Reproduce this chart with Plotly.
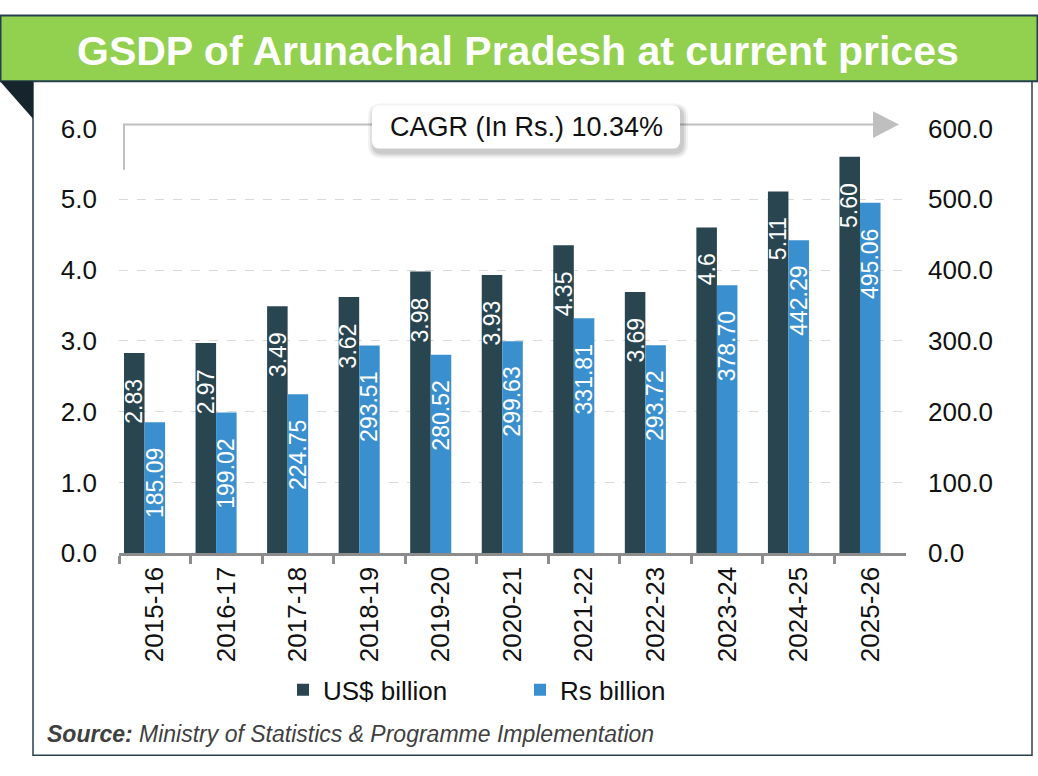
import plotly.graph_objects as go

# ---------------- data ----------------
years = ["2015-16", "2016-17", "2017-18", "2018-19", "2019-20", "2020-21",
         "2021-22", "2022-23", "2023-24", "2024-25", "2025-26"]
usd_billion = [2.83, 2.97, 3.49, 3.62, 3.98, 3.93, 4.35, 3.69, 4.6, 5.11, 5.60]
usd_text = ["2.83", "2.97", "3.49", "3.62", "3.98", "3.93", "4.35", "3.69", "4.6", "5.11", "5.60"]
rs_billion = [185.09, 199.02, 224.75, 293.51, 280.52, 299.63, 331.81, 293.72, 378.70, 442.29, 495.06]
rs_text = ["185.09", "199.02", "224.75", "293.51", "280.52", "299.63", "331.81", "293.72", "378.70", "442.29", "495.06"]
left_ticks = [0, 1, 2, 3, 4, 5, 6]
right_ticks = [0, 100, 200, 300, 400, 500, 600]
title_text = "GSDP of Arunachal Pradesh at current prices"
cagr_text = "CAGR (In Rs.) 10.34%"
source_text = "<b><i>Source:</i></b><i> Ministry of Statistics &amp; Programme Implementation</i>"

# ---------------- layout helpers ----------------
W, H = 1038, 776
FONT = "Liberation Sans, Arial, sans-serif"
DARK = "#284550"
BLUE = "#3A90CF"
GREY = "#BFBFBF"


def fx(p):
    return p / W


def fy(p):
    return 1 - p / H


def path(points, close=True):
    s = "M" + " L".join(f"{fx(x):.5f},{fy(y):.5f}" for x, y in points)
    return s + (" Z" if close else "")


def rounded_rect(x0, y0, x1, y1, r):
    pts = [
        ("M", x0 + r, y0), ("L", x1 - r, y0), ("Q", x1, y0, x1, y0 + r),
        ("L", x1, y1 - r), ("Q", x1, y1, x1 - r, y1), ("L", x0 + r, y1),
        ("Q", x0, y1, x0, y1 - r), ("L", x0, y0 + r), ("Q", x0, y0, x0 + r, y0),
    ]
    out = []
    for p in pts:
        if p[0] == "Q":
            out.append(f"Q{fx(p[1]):.5f},{fy(p[2]):.5f} {fx(p[3]):.5f},{fy(p[4]):.5f}")
        else:
            out.append(f"{p[0]}{fx(p[1]):.5f},{fy(p[2]):.5f}")
    return " ".join(out) + " Z"


fig = go.Figure()

fig.add_trace(go.Bar(
    name="US$ billion", x=years, y=usd_billion, yaxis="y",
    marker=dict(color=DARK, line=dict(width=0)),
    offset=-0.43, width=0.287, hoverinfo="skip",
))
fig.add_trace(go.Bar(
    name="Rs billion", x=years, y=rs_billion, yaxis="y2",
    marker=dict(color=BLUE, line=dict(width=0)),
    offset=-0.143, width=0.287, hoverinfo="skip",
))

annotations = []
for yr, v, t in zip(years, usd_billion, usd_text):
    annotations.append(dict(
        x=yr, y=v, xref="x", yref="y", text=t, showarrow=False, textangle=-90,
        xanchor="center", yanchor="top", xshift=-20.5, yshift=-24,
        font=dict(family=FONT, size=23, color="white"),
    ))
for yr, v, t in zip(years, rs_billion, rs_text):
    annotations.append(dict(
        x=yr, y=v, xref="x", yref="y2", text=t, showarrow=False, textangle=-90,
        xanchor="center", yanchor="top", xshift=0, yshift=-24,
        font=dict(family=FONT, size=23, color="white"),
    ))

# title
annotations.append(dict(
    x=fx(518), y=fy(37), xref="paper", yref="paper", text=f"<b>{title_text}</b>",
    showarrow=False, xanchor="center", yanchor="middle",
    font=dict(family=FONT, size=41, color="white"),
))
# CAGR text
annotations.append(dict(
    x=fx(526), y=fy(116), xref="paper", yref="paper", text=cagr_text,
    showarrow=False, xanchor="center", yanchor="middle",
    font=dict(family=FONT, size=27, color="#111111"),
))
# source
annotations.append(dict(
    x=fx(45), y=fy(748), xref="paper", yref="paper", text=source_text,
    showarrow=False, xanchor="left", yanchor="middle",
    font=dict(family=FONT, size=23, color="#404040"),
))

shapes = [
    # white panel
    dict(type="rect", xref="paper", yref="paper", x0=fx(33), x1=fx(1032), y0=fy(770), y1=fy(69),
         fillcolor="white", line=dict(color="#2A3F4C", width=1.5), layer="below"),
    # green banner
    dict(type="rect", xref="paper", yref="paper", x0=fx(0.5), x1=fx(1037.5), y0=fy(69), y1=fy(0.5),
         fillcolor="#92D050", line=dict(color="#24404E", width=2), layer="below"),
    # dark fold triangle
    dict(type="path", xref="paper", yref="paper", path=path([(0, 69), (33, 69), (33, 108)]),
         fillcolor="#16252D", line=dict(width=0), layer="below"),
    # CAGR arrow line
    dict(type="path", xref="paper", yref="paper",
         path=path([(124, 161), (124, 114), (876, 114)], close=False),
         line=dict(color=GREY, width=2), layer="above"),
    dict(type="path", xref="paper", yref="paper", path=path([(873, 100), (899, 114), (873, 128)]),
         fillcolor=GREY, line=dict(width=0), layer="above"),
]
# CAGR box shadow + box
for off, op in [(6, 0.05), (4, 0.07), (2, 0.09)]:
    shapes.append(dict(type="path", xref="paper", yref="paper",
                       path=rounded_rect(372 - off + 2, 94 - off + 4, 680 + off + 2, 139 + off + 4, 8 + off),
                       fillcolor=f"rgba(0,0,0,{op})", line=dict(width=0), layer="above"))
shapes.append(dict(type="path", xref="paper", yref="paper", path=rounded_rect(372, 94, 680, 139, 8),
                   fillcolor="white", line=dict(width=0), layer="above"))

fig.update_layout(
    width=W, height=H,
    margin=dict(l=0, r=0, t=0, b=0),
    paper_bgcolor="white", plot_bgcolor="rgba(0,0,0,0)",
    barmode="overlay",
    font=dict(family=FONT, color="#111111"),
    showlegend=True,
    legend=dict(
        orientation="h", x=fx(283), xanchor="left", y=fy(702), yanchor="middle",
        font=dict(family=FONT, size=26, color="#111111"),
        entrywidth=192, entrywidthmode="pixels", bgcolor="rgba(0,0,0,0)",
        traceorder="normal",
    ),
    xaxis=dict(
        domain=[fx(119), fx(906)], type="category",
        showline=True, linecolor="#8C8C8C", linewidth=3,
        ticks="outside", tickson="boundaries", ticklen=8, tickwidth=3, tickcolor="#8C8C8C",
        tickangle=-90, tickfont=dict(family=FONT, size=26, color="#111111"),
        showgrid=False, zeroline=False, anchor="y",
    ),
    yaxis=dict(
        domain=[fy(560), fy(118)], range=[0, 6], tickvals=left_ticks,
        tickformat=".1f", tickfont=dict(family=FONT, size=26, color="#111111"),
        showgrid=True, gridcolor="#D9D9D9", griddash="dash", gridwidth=1,
        zeroline=False, showline=False, ticks="", ticklabelstandoff=21,
    ),
    yaxis2=dict(
        domain=[fy(560), fy(118)], range=[0, 600], tickvals=right_ticks,
        tickformat=".1f", tickfont=dict(family=FONT, size=26, color="#111111"),
        overlaying="y", side="right", anchor="x",
        showgrid=False, zeroline=False, showline=False, ticks="", ticklabelstandoff=21,
    ),
    annotations=annotations,
    shapes=shapes,
)

fig.write_html("out.html")
